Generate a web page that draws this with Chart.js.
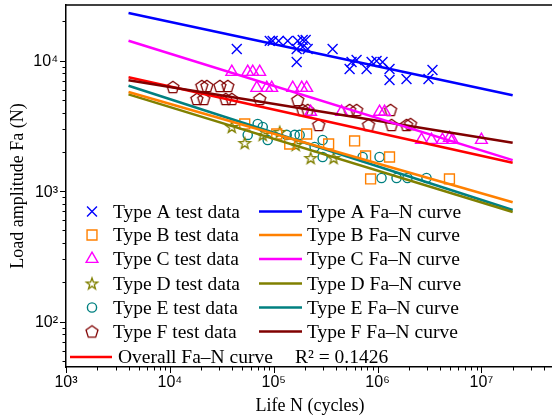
<!DOCTYPE html>
<html>
<head>
<meta charset="utf-8">
<script src="https://cdn.jsdelivr.net/npm/chart.js@4"></script>
<style>
  html, body { margin: 0; padding: 0; overflow: hidden; background: #fff; }
</style>
</head>
<body>
<canvas id="chart" width="554" height="419"></canvas>
<script>
// test data, life N (cycles) and load amplitude Fa (N)
const lifeA = [44100, 91600, 97700, 111700, 136400, 170300, 190200, 203200, 166400, 190200, 212400, 166400, 369200, 538000, 562000, 628000, 784000, 876000, 978000, 1117000, 1304000, 1304000, 1900000, 3093000, 3380000];
const loadA = [12290, 14170, 14170, 14170, 14170, 14170, 14420, 14420, 12290, 12740, 12290, 9770, 12290, 8630, 9770, 10120, 8630, 9770, 9950, 9770, 8630, 7110, 7240, 7240, 8490];

const lifeB = [52600, 107000, 142600, 207700, 338000, 601000, 767000, 1304000, 857000, 4922000];
const loadB = [3275, 2743, 2300, 2743, 2300, 2426, 1862, 1829, 1242, 1242];

const lifeC = [39500, 56200, 62800, 73300, 68700, 85700, 95700, 152400, 186000, 207700, 226800, 450600, 1045000, 1167000, 2649000, 3304000, 4215000, 4922000, 5264000, 10000000];
const loadC = [8190, 8190, 8190, 8190, 6180, 6180, 6180, 6180, 6180, 6180, 4050, 4050, 4050, 4050, 2468, 2468, 2468, 2556, 2468, 2468];

const lifeD = [39500, 52600, 78400, 114300, 163000, 226800, 377500];
const loadD = [3105, 2340, 2700, 2845, 2260, 1795, 1795];

const lifeE = [56200, 70100, 78400, 87500, 133400, 159300, 177800, 247700, 296000, 296000, 717800, 1045000, 1092000, 1524000, 1942000, 2958000];
const loadE = [2700, 3275, 3105, 2468, 2700, 2700, 2700, 2182, 2468, 1829, 1829, 1829, 1262, 1262, 1262, 1262];

const lifeF = [10690, 20300, 22700, 18200, 21200, 30300, 36100, 34500, 39500, 73300, 170300, 190200, 212400, 271000, 538000, 628000, 819000, 1334000, 1364000, 1900000, 2077000];
const loadF = [6280, 6400, 6400, 5090, 5090, 6400, 6400, 5090, 5090, 5090, 5000, 4190, 4190, 3216, 4190, 4190, 3216, 4190, 3216, 3216, 3270];

// Fa-N curves, value at the two ends
const fitLife = [4000, 20000000];
const fitA = [23200, 5430];
const fitB = [5760, 822];
const fitC = [14200, 1730];
const fitD = [5520, 693];
const fitE = [6430, 718];
const fitF = [7080, 2355];
const fitAll = [7460, 1650];

const typeNames = ['A', 'B', 'C', 'D', 'E', 'F'];
const xTickValues = [1e3, 1e4, 1e5, 1e6, 1e7];
const xTickLabels = ['10³', '10⁴', '10⁵', '10⁶', '10⁷'];
const yTickValues = [1e2, 1e3, 1e4];
const yTickLabels = ['10²', '10³', '10⁴'];
const r2Text = 'R² = 0.1426';

const colors = ['#0000ff', '#ff8000', '#ff00ff', '#808000', '#008080', '#800000'];
const overallColor = '#ff0000';

// pentagon and star markers made as small images
function makeMarker(kind, color) {
  const c = document.createElement('canvas');
  c.width = 16; c.height = 16;
  const g = c.getContext('2d');
  g.strokeStyle = color;
  g.lineWidth = 1.3;
  g.beginPath();
  const n = kind === 'star' ? 10 : 5;
  for (let i = 0; i < n; i++) {
    const ang = -Math.PI / 2 + i * 2 * Math.PI / n;
    const r = kind === 'star' ? (i % 2 ? 2.4 : 6) : 6.3;
    const px = 8 + r * Math.cos(ang), py = 8.5 + r * Math.sin(ang);
    if (i === 0) g.moveTo(px, py); else g.lineTo(px, py);
  }
  g.closePath();
  g.stroke();
  return c;
}
const starImg = makeMarker('star', colors[3]);
const pentaImg = makeMarker('penta', colors[5]);

const markers = [
  { pointStyle: 'crossRot', radius: 7 },
  { pointStyle: 'rect', radius: 7 },
  { pointStyle: 'triangle', radius: 6.8 },
  { pointStyle: starImg, radius: 6 },
  { pointStyle: 'circle', radius: 4.6 },
  { pointStyle: pentaImg, radius: 6 }
];

const toPts = (xs, ys) => xs.map((v, i) => ({ x: v, y: ys[i] }));

const lifes = [lifeA, lifeB, lifeC, lifeD, lifeE, lifeF];
const loads = [loadA, loadB, loadC, loadD, loadE, loadF];
const fits = [fitA, fitB, fitC, fitD, fitE, fitF];

const lineSets = fits.map((f, i) => ({
  label: 'Type ' + typeNames[i] + ' Fa–N curve',
  data: toPts(fitLife, f),
  showLine: true,
  borderColor: colors[i],
  borderWidth: 2.5,
  pointRadius: 0
}));
lineSets.push({
  label: 'Overall Fa–N curve',
  data: toPts(fitLife, fitAll),
  showLine: true,
  borderColor: overallColor,
  borderWidth: 2.5,
  pointRadius: 0
});

const pointSets = lifes.map((l, i) => ({
  label: 'Type ' + typeNames[i] + ' test data',
  data: toPts(l, loads[i]),
  showLine: false,
  pointStyle: markers[i].pointStyle,
  pointRadius: markers[i].radius,
  borderColor: colors[i],
  backgroundColor: 'rgba(0,0,0,0)',
  pointBorderWidth: 1.4
}));

const serif = '"Liberation Serif", "Times New Roman", serif';
const sans = '"Liberation Sans", Arial, sans-serif';

// ticks (major and minor), tick labels and top frame line
const framePlugin = {
  id: 'frame',
  afterDraw(chart) {
    const { ctx, chartArea: a, scales: { x, y } } = chart;
    ctx.save();
    ctx.strokeStyle = '#000';
    ctx.lineWidth = 1.5;
    ctx.beginPath();
    ctx.moveTo(a.left, a.top);
    ctx.lineTo(a.right, a.top);
    ctx.stroke();
    ctx.lineWidth = 1;
    ctx.beginPath();
    for (let e = 3; e <= 7; e++) {
      for (let m = 1; m <= 9; m++) {
        const v = m * Math.pow(10, e);
        if (v > x.max) break;
        const px = Math.round(x.getPixelForValue(v)) + 0.5;
        ctx.moveTo(px, a.bottom);
        ctx.lineTo(px, a.bottom + (m === 1 ? 6 : 3.5));
      }
    }
    for (let e = 1; e <= 4; e++) {
      for (let m = 1; m <= 9; m++) {
        const v = m * Math.pow(10, e);
        if (v < y.min) continue;
        if (v > y.max) break;
        const py = Math.round(y.getPixelForValue(v)) + 0.5;
        ctx.moveTo(a.left, py);
        ctx.lineTo(a.left - (m === 1 ? 6 : 3.5), py);
      }
    }
    ctx.stroke();

    ctx.fillStyle = '#000';
    ctx.font = '16px ' + sans;
    ctx.textBaseline = 'alphabetic';
    ctx.textAlign = 'center';
    xTickValues.forEach((v, i) => ctx.fillText(xTickLabels[i], x.getPixelForValue(v), a.bottom + 20));
    ctx.textAlign = 'right';
    yTickValues.forEach((v, i) => ctx.fillText(yTickLabels[i], a.left - 8, y.getPixelForValue(v) + 5.5));
    ctx.restore();
  }
};

// legend inside the plot, two columns plus the overall row
const legendPlugin = {
  id: 'innerLegend',
  afterDraw(chart) {
    const ctx = chart.ctx;
    const rows = [211.5, 235, 259, 283.5, 307.5, 331.5];
    ctx.save();
    ctx.font = '19.5px ' + serif;
    ctx.textBaseline = 'middle';
    ctx.fillStyle = '#000';
    rows.forEach((ry, i) => {
      ctx.save();
      ctx.strokeStyle = colors[i];
      ctx.fillStyle = 'rgba(0,0,0,0)';
      ctx.lineWidth = 1.4;
      Chart.helpers.drawPoint(ctx, { pointStyle: markers[i].pointStyle, radius: markers[i].radius, rotation: 0, borderWidth: 1.4 }, 92, ry);
      ctx.restore();
      ctx.fillText(pointSets[i].label, 113, ry + 1);
      ctx.strokeStyle = colors[i];
      ctx.lineWidth = 2.5;
      ctx.beginPath();
      ctx.moveTo(259, ry);
      ctx.lineTo(302, ry);
      ctx.stroke();
      ctx.fillText(lineSets[i].label, 307, ry + 1);
    });
    const ly = 357;
    ctx.strokeStyle = overallColor;
    ctx.lineWidth = 2.5;
    ctx.beginPath();
    ctx.moveTo(70, ly);
    ctx.lineTo(112, ly);
    ctx.stroke();
    ctx.fillText(lineSets[6].label, 118, ly + 1);
    ctx.fillText(r2Text, 295, ly + 1);
    ctx.restore();
  }
};

new Chart(document.getElementById('chart'), {
  type: 'scatter',
  data: { datasets: [...lineSets, ...pointSets] },
  options: {
    responsive: false,
    animation: false,
    layout: { autoPadding: false, padding: { top: 5, right: 0, left: 0, bottom: 0 } },
    plugins: { legend: { display: false }, tooltip: { enabled: false } },
    scales: {
      x: {
        type: 'logarithmic',
        min: 1000,
        max: 50000000,
        afterFit: s => { s.height = 52; },
        ticks: { display: false },
        grid: { display: false, drawTicks: false },
        border: { display: true, color: '#000', width: 1.5 },
        title: { display: true, text: 'Life N (cycles)', color: '#000', font: { family: serif, size: 18 }, padding: { top: 0, bottom: 2 } }
      },
      y: {
        type: 'logarithmic',
        min: 45,
        max: 26700,
        afterFit: s => { s.width = 66; },
        ticks: { display: false },
        grid: { display: false, drawTicks: false },
        border: { display: true, color: '#000', width: 1.5 },
        title: { display: true, text: 'Load amplitude Fa (N)', color: '#000', font: { family: serif, size: 18 }, padding: { top: 7, bottom: 0 } }
      }
    }
  },
  plugins: [framePlugin, legendPlugin]
});
</script>
</body>
</html>
